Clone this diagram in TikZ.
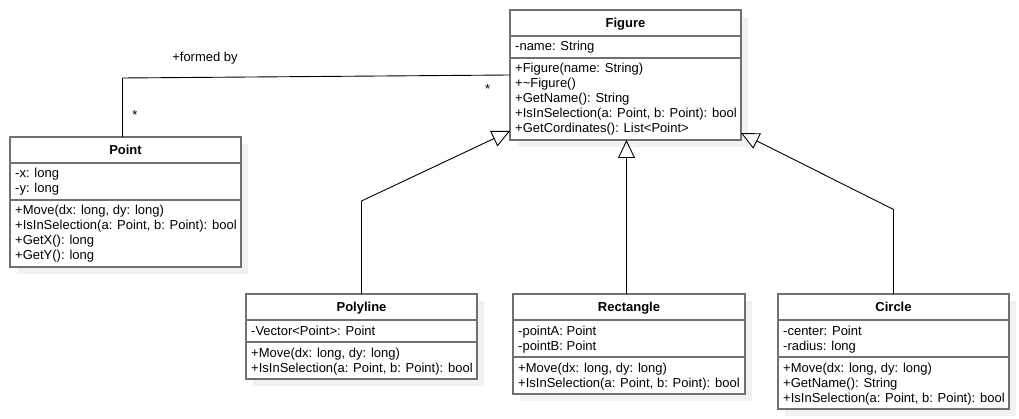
\documentclass[tikz,border=0pt]{standalone}
\usepackage{fontspec}
\setmainfont{Liberation Sans}
\usetikzlibrary{arrows.meta}

\definecolor{boxline}{RGB}{112,112,112}
\definecolor{shadowgray}{RGB}{241,241,241}

\newcommand\umlfont{\fontsize{13}{15}\selectfont}

\tikzset{
  classframe/.style={draw=boxline, line width=1.4pt, fill=white, inner sep=0pt,
    outer sep=0pt, anchor=north west},
  classshadow/.style={fill=shadowgray, draw=none},
  divider/.style={draw=boxline, line width=1.2pt},
  classtitle/.style={font=\umlfont\bfseries, anchor=base, inner sep=0pt},
  members/.style={font=\umlfont, anchor=base west, inner sep=0pt},
  assoc/.style={draw=black, line width=0.9pt},
  inherit/.style={draw=black, line width=0.9pt, line join=miter,
    -{Triangle[open, length=18pt, width=17pt, line width=0.9pt]}},
  mult/.style={font=\umlfont, anchor=base, inner sep=0pt},
}

% \umlclass{name}{left}{top}{title}{#attr lines}{attributes}{#op lines}{operations}{width}
\newcommand\umlclass[9]{%
  \pgfmathsetmacro\secA{#5*15+7}%
  \pgfmathsetmacro\secB{#7*15+7}%
  \pgfmathsetmacro\cutB{26+\secA}%
  \pgfmathsetmacro\fullH{26+\secA+\secB}%
  \path[classshadow] (#2+7,#3+7) rectangle ++(#9,\fullH);
  \node[classframe, minimum width=#9, minimum height=\fullH] (#1) at (#2,#3) {};
  \draw[divider] ([yshift=-26]#1.north west) -- ([yshift=-26]#1.north east);
  \draw[divider] ([yshift=-\cutB]#1.north west) -- ([yshift=-\cutB]#1.north east);
  \node[classtitle] (#1-title) at ([yshift=-18]#1.north) {#4};
  \node[members] (#1-attrs) at ([xshift=5,yshift=-41]#1.north west)
    {\begin{tabular}[t]{@{}l@{}}#6\end{tabular}};
  \node[members] (#1-ops) at ([xshift=5,yshift=-\cutB-15]#1.north west)
    {\begin{tabular}[t]{@{}l@{}}#8\end{tabular}};
}

\begin{document}
\begin{tikzpicture}[x=1pt,y=-1pt]
  \fill[white] (0,0) rectangle (1019,419);
  \useasboundingbox (0,0) rectangle (1019,419);

  % classes
  \umlclass{fig}{510}{10}{Figure}{1}{-name: String}{5}{%
    +Figure(name: String)\\
    +\textasciitilde Figure()\\
    +GetName(): String\\
    +IsInSelection(a: Point, b: Point): bool\\
    +GetCordinates(): List<Point>}{231}

  \umlclass{pt}{10}{137}{Point}{2}{-x: long\\ -y: long}{4}{%
    +Move(dx: long, dy: long)\\
    +IsInSelection(a: Point, b: Point): bool\\
    +GetX(): long\\
    +GetY(): long}{231}

  \umlclass{poly}{246}{294}{Polyline}{1}{-Vector<Point>: Point}{2}{%
    +Move(dx: long, dy: long)\\
    +IsInSelection(a: Point, b: Point): bool}{231}

  \umlclass{rect}{513}{294}{Rectangle}{2}{-pointA: Point\\ -pointB: Point}{2}{%
    +Move(dx: long, dy: long)\\
    +IsInSelection(a: Point, b: Point): bool}{232}

  \umlclass{circ}{778}{294}{Circle}{2}{-center: Point\\ -radius: long}{3}{%
    +Move(dx: long, dy: long)\\
    +GetName(): String\\
    +IsInSelection(a: Point, b: Point): bool}{231}

  % association Point -- Figure
  \draw[assoc] ([xshift=-3]pt.north) -- ++(0,-59) -- (fig.west);
  \node[mult] (role) at (205,61.5) {+formed by};
  \node[mult] (multfig) at (487.7,93.5) {*};
  \node[mult] (multpt) at (135,120) {*};

  % generalizations
  \draw[inherit] (poly.north) -- ++(0,-93) -- ([yshift=9]fig.south west);
  \draw[inherit] ([xshift=-2.5]rect.north) -- ([xshift=-2.5]rect.north |- fig.south);
  \draw[inherit] (circ.north) -- ++(0,-84.5) -- ([yshift=7]fig.south east);
\end{tikzpicture}
\end{document}
